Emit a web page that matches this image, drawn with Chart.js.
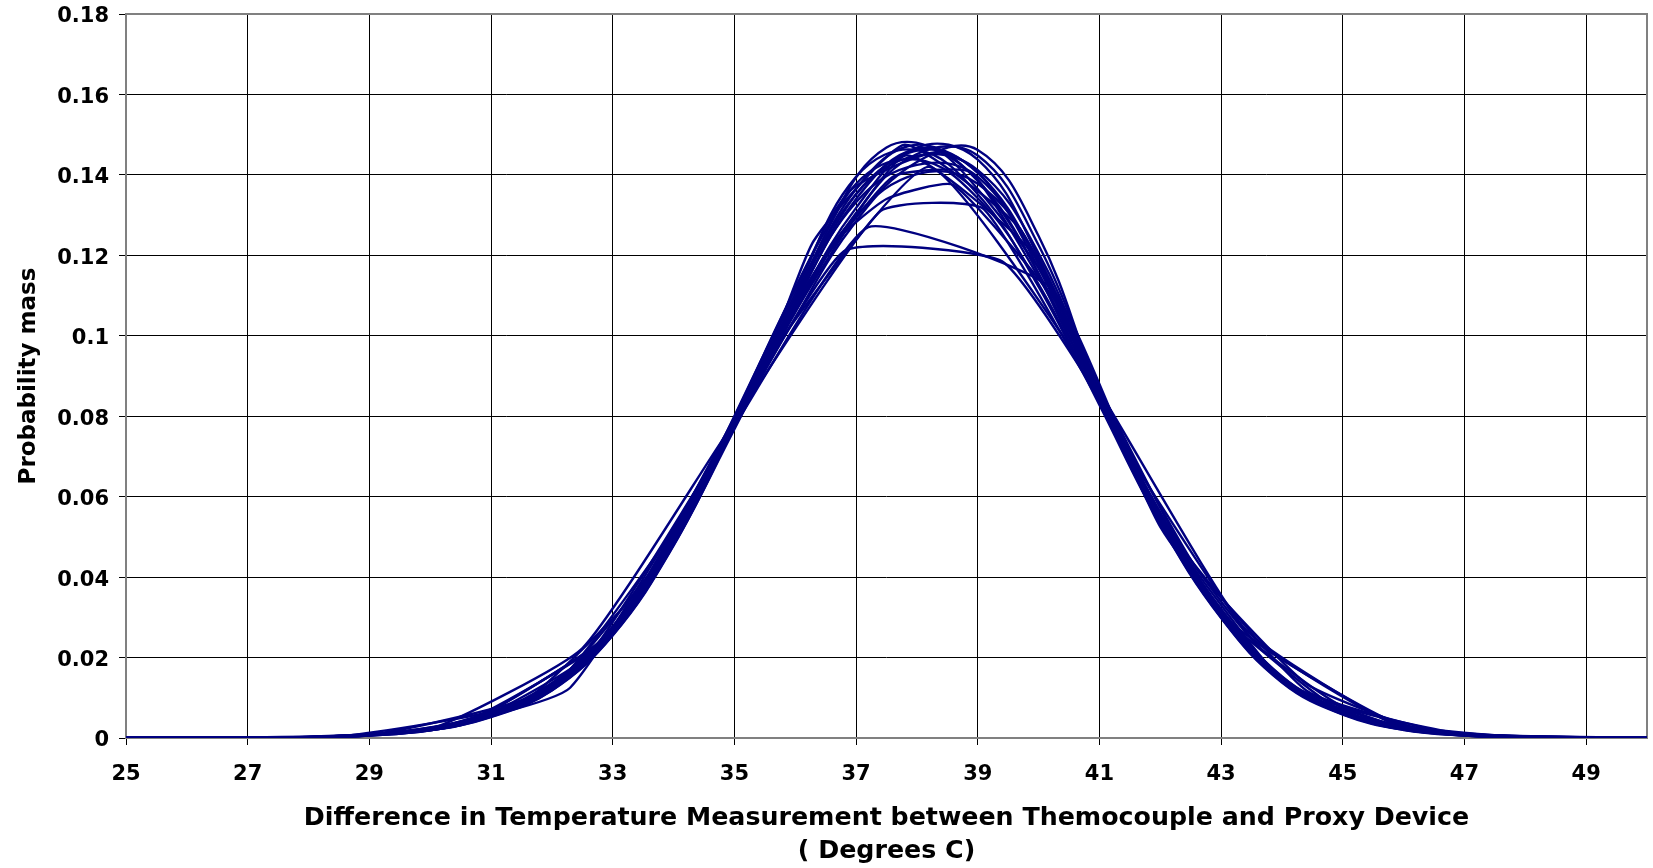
<!DOCTYPE html>
<html>
<head>
<meta charset="utf-8">
<script src="https://cdn.jsdelivr.net/npm/chart.js@4.4.1/dist/chart.umd.min.js"></script>
<style>
  html, body { margin: 0; padding: 0; background: #fff; }
  #wrap { width: 1653px; height: 868px; position: relative; }
</style>
</head>
<body>
<div id="wrap"><canvas id="chart"></canvas></div>
<script>
// ===== Axis ticks =====
const xTicks = [25, 27, 29, 31, 33, 35, 37, 39, 41, 43, 45, 47, 49];
const yTicks = [0, 0.02, 0.04, 0.06, 0.08, 0.1, 0.12, 0.14, 0.16, 0.18];

// ===== Runs sampled on whole degrees =====
const xWhole = [25, 26, 27, 28, 29, 30, 31, 32, 33, 34, 35, 36, 37, 38, 39, 40, 41, 42, 43, 44, 45, 46, 47, 48, 49, 50];
const run01 = [0, 0, 0, 0.0002, 0.0008, 0.0022, 0.0058, 0.0125, 0.0265, 0.049, 0.0785, 0.108, 0.134, 0.1465, 0.1405, 0.118, 0.0845, 0.0545, 0.031, 0.0145, 0.0065, 0.0025, 0.0008, 0.0002, 0, 0];
const run02 = [0, 0, 0, 0.0001, 0.0006, 0.0019, 0.0052, 0.0118, 0.0255, 0.0478, 0.0775, 0.1085, 0.1365, 0.1475, 0.1385, 0.1155, 0.0835, 0.0538, 0.0302, 0.0142, 0.0062, 0.0022, 0.0007, 0.0002, 0, 0];
const run03 = [0, 0, 0, 0.0002, 0.0009, 0.0025, 0.0062, 0.0132, 0.0272, 0.0498, 0.0792, 0.1105, 0.1395, 0.1462, 0.1352, 0.1122, 0.0828, 0.0532, 0.0298, 0.0138, 0.0058, 0.002, 0.0006, 0.0001, 0, 0];
const run04 = [0, 0, 0, 0.0001, 0.0007, 0.002, 0.0055, 0.012, 0.0258, 0.0482, 0.0772, 0.1045, 0.1285, 0.1432, 0.1462, 0.1248, 0.0862, 0.0555, 0.0318, 0.0152, 0.0068, 0.0027, 0.0009, 0.0003, 0, 0];
const run05 = [0, 0, 0, 0.0002, 0.0008, 0.0023, 0.006, 0.0128, 0.0268, 0.0492, 0.0785, 0.1075, 0.1298, 0.1402, 0.1378, 0.1188, 0.0852, 0.0548, 0.0312, 0.0146, 0.0064, 0.0024, 0.0008, 0.0002, 0, 0];
const run06 = [0, 0, 0, 0.0001, 0.0007, 0.0021, 0.0056, 0.0122, 0.026, 0.0486, 0.0782, 0.1092, 0.1352, 0.1448, 0.1412, 0.1205, 0.0858, 0.0551, 0.0314, 0.0148, 0.0066, 0.0026, 0.0008, 0.0002, 0, 0];
const run07 = [0, 0, 0, 0.0002, 0.0008, 0.0022, 0.0057, 0.0124, 0.0262, 0.0484, 0.0778, 0.1068, 0.1318, 0.1468, 0.1438, 0.1195, 0.0848, 0.0542, 0.0306, 0.0143, 0.0063, 0.0023, 0.0007, 0.0002, 0, 0];
const run08 = [0, 0, 0, 0.0002, 0.0009, 0.0026, 0.0064, 0.0135, 0.0276, 0.0502, 0.0798, 0.1115, 0.1378, 0.1438, 0.1342, 0.1128, 0.0832, 0.0535, 0.03, 0.014, 0.006, 0.0021, 0.0006, 0.0001, 0, 0];
const run09 = [0, 0, 0, 0.0001, 0.0006, 0.0019, 0.0053, 0.0119, 0.0256, 0.048, 0.0768, 0.1058, 0.1305, 0.1452, 0.1448, 0.1225, 0.0868, 0.0558, 0.032, 0.0153, 0.0069, 0.0027, 0.0009, 0.0003, 0, 0];
const run10 = [0, 0, 0, 0.0002, 0.0008, 0.0022, 0.0058, 0.0126, 0.0266, 0.0489, 0.078, 0.1082, 0.1332, 0.1425, 0.1395, 0.1168, 0.0842, 0.0543, 0.0308, 0.0144, 0.0064, 0.0024, 0.0008, 0.0002, 0, 0];

// ===== Runs sampled on half degrees =====
const xHalf = [25.5, 26.5, 27.5, 28.5, 29.5, 30.5, 31.5, 32.5, 33.5, 34.5, 35.5, 36.5, 37.5, 38.5, 39.5, 40.5, 41.5, 42.5, 43.5, 44.5, 45.5, 46.5, 47.5, 48.5, 49.5];
const run11 = [0, 0, 0.0001, 0.0004, 0.0013, 0.0036, 0.0088, 0.019, 0.037, 0.0635, 0.094, 0.1235, 0.1425, 0.1455, 0.131, 0.1015, 0.0695, 0.042, 0.0218, 0.0098, 0.0038, 0.0013, 0.0004, 0.0001, 0];
const run12 = [0, 0, 0.0001, 0.0005, 0.0015, 0.004, 0.0094, 0.0198, 0.0382, 0.0648, 0.0958, 0.1262, 0.1468, 0.1448, 0.1285, 0.0995, 0.0682, 0.0412, 0.0212, 0.0095, 0.0036, 0.0012, 0.0003, 0.0001, 0];

// ===== Runs with coarse / uneven bins =====
const xRun13 = [25, 27.2, 29.0, 30.8, 32.6, 34.4, 36.8, 39.4, 41.0, 42.6, 44.4, 46.2, 48.0, 50];
const run13 = [0, 0, 0.0007, 0.0048, 0.0205, 0.0625, 0.121, 0.1185, 0.0845, 0.042, 0.0135, 0.0025, 0.0002, 0];
const xRun14 = [25, 28.0, 30.0, 32.3, 35.1, 37.2, 40.2, 41.8, 43.5, 45.9, 48, 50];
const run14 = [0, 0.0002, 0.0022, 0.0125, 0.08, 0.127, 0.112, 0.06, 0.0248, 0.0036, 0.0002, 0];
const xRun15 = [25, 27.5, 30.0, 32.5, 34.8, 37.4, 39.1, 41.5, 43.5, 45.0, 47.0, 50];
const run15 = [0, 0.0001, 0.0022, 0.0223, 0.074, 0.131, 0.1315, 0.07, 0.0245, 0.0078, 0.001, 0];
const xRun16 = [25, 28.5, 31.5, 33.6, 35.7, 37.8, 39.9, 42.0, 44.1, 46.2, 48.3, 50];
const run16 = [0, 0.0004, 0.0088, 0.04, 0.0985, 0.1448, 0.1205, 0.0525, 0.0128, 0.0018, 0.0001, 0];
const xRun17 = [25, 27.8, 30.4, 33.0, 35.6, 38.2, 40.8, 43.4, 46.0, 48.6, 50];
const run17 = [0, 0.0002, 0.003, 0.0262, 0.0955, 0.142, 0.091, 0.027, 0.0025, 0.0001, 0];
const xRun18 = [25, 28, 30.5, 33, 35, 36.6, 37.5, 38.6, 40.4, 42, 44, 46, 48, 50];
const run18 = [0, 0.0002, 0.0032, 0.0265, 0.0785, 0.1225, 0.134, 0.1375, 0.106, 0.0545, 0.0145, 0.0025, 0.0002, 0];
const xRun19 = [25, 28, 30, 32, 34, 35.5, 36.3, 37.8, 39.7, 41.3, 43, 45, 47, 50];
const run19 = [0, 0.0002, 0.0022, 0.0125, 0.049, 0.093, 0.1235, 0.1475, 0.1265, 0.0755, 0.031, 0.0065, 0.0008, 0];
const xRun20 = [25, 28.2, 30.6, 33.0, 35.4, 36.9, 38.4, 40.1, 42.0, 44.4, 46.8, 50];
const run20 = [0, 0.0002, 0.0038, 0.0268, 0.0905, 0.136, 0.1455, 0.1145, 0.0545, 0.0118, 0.0012, 0];
const xRun21 = [25, 29, 32, 34.5, 36.2, 37.6, 38.9, 40.6, 43, 46, 50];
const run21 = [0, 0.0008, 0.0125, 0.063, 0.113, 0.1395, 0.1405, 0.0985, 0.031, 0.0025, 0];

const smoothRuns = [
  [xWhole, run01], [xWhole, run02], [xWhole, run03], [xWhole, run04], [xWhole, run05],
  [xWhole, run06], [xWhole, run07], [xWhole, run08], [xWhole, run09], [xWhole, run10],
  [xHalf, run11], [xHalf, run12]
];
const coarseRuns = [
  [xRun13, run13], [xRun14, run14], [xRun15, run15], [xRun16, run16], [xRun17, run17],
  [xRun18, run18], [xRun19, run19], [xRun20, run20], [xRun21, run21]
];

const NAVY = '#000080';
const FONT = "'DejaVu Sans', Verdana, sans-serif";

function runDataset(xs, ys, tension) {
  return {
    data: xs.map((x, i) => ({ x, y: ys[i] })),
    showLine: true,
    borderColor: NAVY,
    backgroundColor: NAVY,
    borderWidth: 2.4,
    pointRadius: 0,
    tension,
    fill: false
  };
}

// grey frame round the plot area
const plotFrame = {
  id: 'plotFrame',
  beforeDatasetsDraw(chart) {
    const { ctx, chartArea: a } = chart;
    ctx.save();
    ctx.strokeStyle = '#808080';
    ctx.lineWidth = 2;
    ctx.strokeRect(a.left, a.top, a.right - a.left, a.bottom - a.top);
    ctx.restore();
  }
};

new Chart(document.getElementById('chart'), {
  type: 'scatter',
  data: {
    datasets: [
      ...smoothRuns.map(([xs, ys]) => runDataset(xs, ys, 0.4)),
      ...coarseRuns.map(([xs, ys]) => runDataset(xs, ys, 0.15))
    ]
  },
  options: {
    responsive: true,
    maintainAspectRatio: false,
    animation: false,
    layout: { padding: { top: 14, right: 6, left: 0, bottom: 0 } },
    plugins: {
      legend: { display: false },
      tooltip: { enabled: false }
    },
    scales: {
      x: {
        type: 'linear',
        min: 25,
        max: 50,
        afterBuildTicks: s => { s.ticks = xTicks.map(v => ({ value: v })); },
        afterFit: s => { s.height = 130; },
        grid: { color: '#000', lineWidth: 1, tickLength: 7, tickColor: '#000' },
        border: { display: false },
        ticks: {
          color: '#000',
          padding: 17,
          maxRotation: 0,
          autoSkip: false,
          font: { family: FONT, size: 21, weight: 'bold' }
        },
        title: {
          display: true,
          text: ['Difference in Temperature Measurement between Themocouple and Proxy Device', '( Degrees C)'],
          color: '#000',
          font: { family: FONT, size: 25.3, weight: 'bold', lineHeight: 1.3 },
          padding: { top: 0, bottom: 0 }
        }
      },
      y: {
        min: 0,
        max: 0.18,
        afterBuildTicks: s => { s.ticks = yTicks.map(v => ({ value: v })); },
        afterFit: s => { s.width = 126; s.paddingTop = 0; s.paddingBottom = 0; },
        grid: { color: '#000', lineWidth: 1, tickLength: 7, tickColor: '#000' },
        border: { display: false },
        ticks: {
          color: '#000',
          padding: 10,
          labelOffset: 3,
          callback: v => String(v),
          font: { family: FONT, size: 21, weight: 'bold' }
        },
        title: {
          display: true,
          text: 'Probability mass',
          color: '#000',
          font: { family: FONT, size: 23, weight: 'bold', lineHeight: 1.2 },
          padding: { top: 15, bottom: 0 }
        }
      }
    }
  },
  plugins: [plotFrame]
});
</script>
</body>
</html>
